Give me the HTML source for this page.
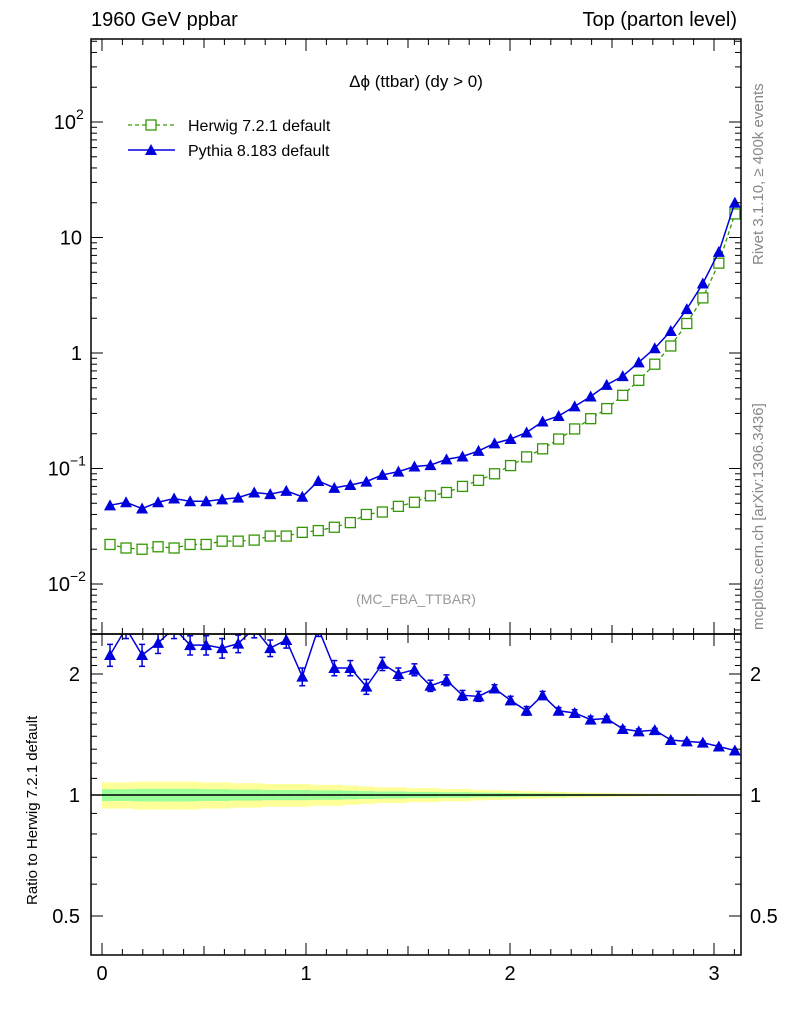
<!DOCTYPE html>
<html><head><meta charset="utf-8"><style>
body{margin:0;background:#fff;font-family:"Liberation Sans",sans-serif}
svg text{font-family:"Liberation Sans",sans-serif}
</style></head><body>
<svg id="c" width="786" height="1024" xmlns="http://www.w3.org/2000/svg"></svg>
<script>
const herwig=[0.022,0.0205,0.020,0.021,0.0205,0.022,0.022,0.0235,0.0235,0.024,0.026,0.026,0.028,0.029,0.031,0.034,0.040,0.042,0.047,0.051,0.058,0.062,0.070,0.079,0.090,0.106,0.126,0.148,0.18,0.22,0.27,0.33,0.43,0.58,0.80,1.15,1.8,3.0,6.0,16];
const pythia=[0.048,0.051,0.045,0.051,0.055,0.052,0.052,0.054,0.056,0.062,0.060,0.064,0.057,0.078,0.068,0.072,0.077,0.088,0.094,0.104,0.107,0.120,0.127,0.142,0.165,0.180,0.205,0.255,0.285,0.345,0.42,0.53,0.63,0.83,1.1,1.55,2.4,4.0,7.5,20];
const ratio=[2.23,2.6,2.23,2.39,2.6,2.36,2.36,2.32,2.38,2.6,2.32,2.43,1.97,2.6,2.07,2.07,1.86,2.12,2.0,2.05,1.87,1.93,1.77,1.76,1.84,1.72,1.62,1.77,1.62,1.60,1.54,1.55,1.46,1.44,1.45,1.37,1.36,1.35,1.32,1.29];
const ratioErr=[0.14,0.15,0.14,0.14,0.15,0.13,0.13,0.13,0.12,0.14,0.11,0.11,0.1,0.12,0.09,0.09,0.08,0.08,0.07,0.07,0.06,0.06,0.05,0.05,0.04,0.04,0.04,0.04,0.03,0.03,0.03,0.02,0.02,0.02,0.015,0.015,0.01,0.01,0.01,0.01];
const bandOuter=[0.075,0.075,0.08,0.08,0.08,0.08,0.075,0.075,0.07,0.07,0.065,0.065,0.065,0.06,0.06,0.055,0.05,0.045,0.045,0.04,0.04,0.035,0.035,0.03,0.028,0.025,0.022,0.02,0.018,0.015,0.013,0.011,0.01,0.008,0.007,0.006,0.005,0.004,0.003,0.002];
const bandInner=bandOuter.map(v=>v*0.45);
const xTicks=[0,1,2,3];
const NB=40, XMAX=Math.PI;
const svg=document.getElementById('c');
const NS='http://www.w3.org/2000/svg';
function mk(t,a,p){const e=document.createElementNS(NS,t);for(const k in a)e.setAttribute(k,a[k]);(p||svg).appendChild(e);return e;}
const L=91,R=741,T=39,M=634,B=955;
const X=v=>102+v*204;
const Y=v=>353-Math.log10(v)*115.5;
const YR=v=>795-Math.log2(v)*121;
const bw=XMAX/NB;
const HC='#339900';
const gB=mk('g',{});
for(let i=0;i<NB;i++){const x0=X(i*bw),x1=X((i+1)*bw);
 mk('rect',{x:x0,y:YR(1+bandOuter[i]),width:x1-x0+0.5,height:YR(1-bandOuter[i])-YR(1+bandOuter[i]),fill:'#ffff99'},gB);
 mk('rect',{x:x0,y:YR(1+bandInner[i]),width:x1-x0+0.5,height:YR(1-bandInner[i])-YR(1+bandInner[i]),fill:'#99ff99'},gB);}
const one=mk('line',{x1:L,x2:R,y1:YR(1),y2:YR(1),stroke:'#000','stroke-width':1.5});

const defs=mk('defs',{});
const cp=mk('clipPath',{id:'cm'},defs);mk('rect',{x:L,y:T,width:R-L,height:M-T},cp);
const cr=mk('clipPath',{id:'cr'},defs);mk('rect',{x:L,y:M,width:R-L,height:B-M},cr);
const gH=mk('g',{'clip-path':'url(#cm)'});
mk('polyline',{points:herwig.map((v,i)=>X((i+.5)*bw)+','+Y(v)).join(' '),fill:'none',stroke:HC,'stroke-width':1.3,'stroke-dasharray':'4,3'},gH);
herwig.forEach((v,i)=>{const r=mk('rect',{x:X((i+.5)*bw)-5,y:Y(v)-5,width:10,height:10,fill:'#fff',stroke:HC,'stroke-width':1.3},gH);});
const gP=mk('g',{'clip-path':'url(#cm)'});
mk('polyline',{points:pythia.map((v,i)=>X((i+.5)*bw)+','+Y(v)).join(' '),fill:'none',stroke:'#0000dd','stroke-width':1.5},gP);
const tri=(x,y)=>`${x-6},${y+5} ${x+6},${y+5} ${x},${y-6}`;
pythia.forEach((v,i)=>{const p=mk('polygon',{points:tri(X((i+.5)*bw),Y(v)),fill:'#0000dd'},gP);});
const gR=mk('g',{'clip-path':'url(#cr)'});
mk('polyline',{points:ratio.map((v,i)=>X((i+.5)*bw)+','+YR(v)).join(' '),fill:'none',stroke:'#0000dd','stroke-width':1.5},gR);
ratio.forEach((v,i)=>{const x=X((i+.5)*bw);const y1=YR(v+ratioErr[i]),y2=YR(v-ratioErr[i]);
 mk('line',{x1:x,x2:x,y1:y1,y2:y2,stroke:'#0000dd','stroke-width':1.5},gR);
 mk('line',{x1:x-3,x2:x+3,y1:y1,y2:y1,stroke:'#0000dd','stroke-width':1.5},gR);
 mk('line',{x1:x-3,x2:x+3,y1:y2,y2:y2,stroke:'#0000dd','stroke-width':1.5},gR);
 const p=mk('polygon',{points:tri(x,YR(v)),fill:'#0000dd'},gR);});
const f1=mk('rect',{x:L,y:T,width:R-L,height:M-T,fill:'none',stroke:'#000','stroke-width':1.5});
const f2=mk('rect',{x:L,y:M,width:R-L,height:B-M,fill:'none',stroke:'#000','stroke-width':1.5});
const gt=mk('g',{stroke:'#000','stroke-width':1});
function hl(y,len){mk('line',{x1:L,x2:L+len,y1:y,y2:y},gt);mk('line',{x1:R,x2:R-len,y1:y,y2:y},gt);}
function vl(x,y0,y1,len){mk('line',{x1:x,x2:x,y1:y0,y2:y0-len},gt);mk('line',{x1:x,x2:x,y1:y1,y2:y1+len},gt);}
for(let k=0;k<=31;k++){const v=k/10;const x=X(v);if(x>R)break;const len=k%10==0?12:(k%5==0?9:6);vl(x,M,T,len);vl(x,B,M,len);}
for(let d=-3;d<=3;d++)for(let m=1;m<10;m++){const y=Y(m*Math.pow(10,d));if(y<T||y>M)continue;hl(y,m==1?12:6);}
[0.5,0.6,0.7,0.8,0.9,1,1.1,1.2,1.3,1.4,1.5,1.6,1.7,1.8,1.9,2,2.1,2.2,2.3,2.4].forEach(v=>{const y=YR(v);if(y<M||y>B)return;hl(y,(v==0.5||v==1||v==2)?12:6);});
function tx(s,a,name){const t=mk('text',a);t.textContent=s;return t;}
xTicks.forEach(v=>tx(String(v),{x:X(v),y:980,'text-anchor':'middle','font-size':20},'x-tick-label'));
const yl=[[100,'10','2'],[10,'10',null],[1,'1',null],[0.1,'10','−1'],[0.01,'10','−2']];
yl.forEach(([v,b,e])=>{const y=Y(v)+7;
 if(v==10){tx('10',{x:82,y:y,'text-anchor':'end','font-size':20},'y-tick-label');return;}
 if(v==1){tx('1',{x:82,y:y,'text-anchor':'end','font-size':20},'y-tick-label');return;}
 tx('10',{x:e.length>1?70:76,y:y,'text-anchor':'end','font-size':20},'y-tick-label');
 tx(e,{x:e.length>1?70:76,y:y-10,'font-size':14},'y-tick-exponent');});
[[2,'2'],[1,'1'],[0.5,'0.5']].forEach(([v,s])=>{tx(s,{x:80,y:YR(v)+7,'text-anchor':'end','font-size':20},'ratio-tick-label-left');tx(s,{x:750,y:YR(v)+7,'font-size':20},'ratio-tick-label-right');});
tx('1960 GeV ppbar',{x:91,y:26,'font-size':20},'plot-title-left');
tx('Top (parton level)',{x:737,y:26,'text-anchor':'end','font-size':20},'plot-title-right');
tx('Δϕ (ttbar) (dy > 0)',{x:416,y:87,'text-anchor':'middle','font-size':17},'plot-subtitle');
tx('(MC_FBA_TTBAR)',{x:416,y:604,'text-anchor':'middle','font-size':14,fill:'#999'},'analysis-label');
tx('Ratio to Herwig 7.2.1 default',{x:0,y:0,'font-size':15,transform:'translate(37,905) rotate(-90)'},'ratio-y-axis-title');
tx('Rivet 3.1.10, ≥ 400k events',{x:0,y:0,'font-size':15,fill:'#888',transform:'translate(763,265) rotate(-90)'},'rivet-label');
tx('mcplots.cern.ch [arXiv:1306.3436]',{x:0,y:0,'font-size':15,fill:'#888',transform:'translate(763,630) rotate(-90)'},'mcplots-label');
const lg=mk('g',{});
mk('line',{x1:128,x2:175,y1:125,y2:125,stroke:HC,'stroke-width':1.3,'stroke-dasharray':'4,3'},lg);
mk('rect',{x:146,y:120,width:10,height:10,fill:'#fff',stroke:HC,'stroke-width':1.3},lg);
tx('Herwig 7.2.1 default',{x:188,y:131,'font-size':16},'legend-herwig');
mk('line',{x1:128,x2:175,y1:150,y2:150,stroke:'#0000dd','stroke-width':1.5},lg);
mk('polygon',{points:tri(151,150),fill:'#0000dd'},lg);
tx('Pythia 8.183 default',{x:188,y:156,'font-size':16},'legend-pythia');
</script>
</body></html>
